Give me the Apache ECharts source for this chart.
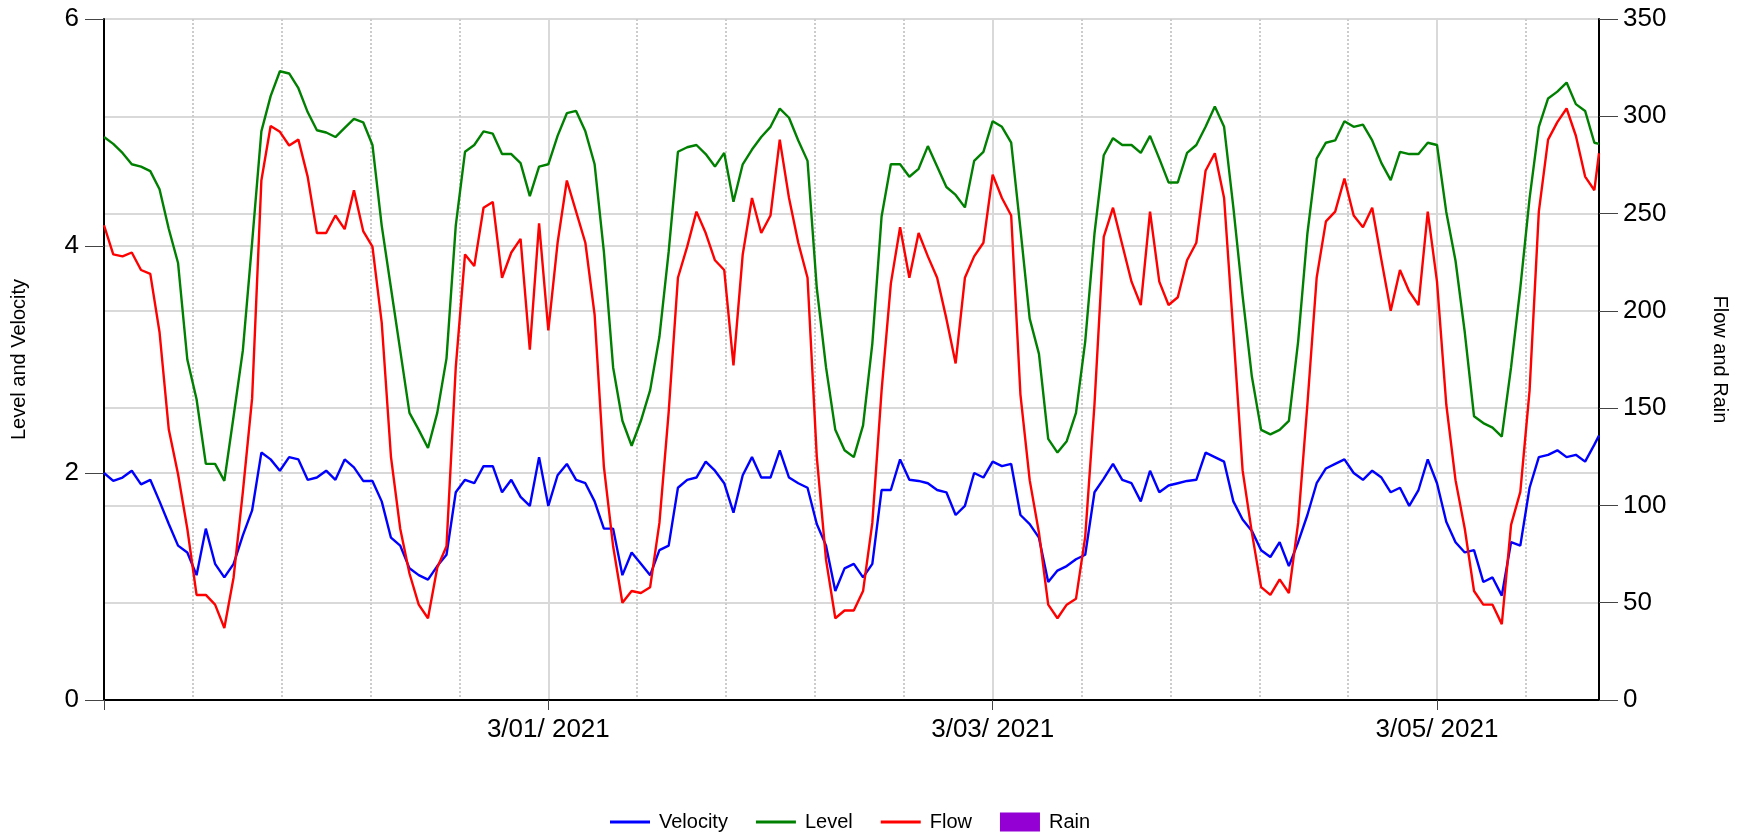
<!DOCTYPE html>
<html>
<head>
<meta charset="utf-8">
<title>Velocity, Level, Flow and Rain</title>
<script src="https://cdn.jsdelivr.net/npm/echarts/dist/echarts.min.js"></script>
<style>
  html, body { margin: 0; padding: 0; background: #fff; }
  #chart { width: 1745px; height: 833px; }
</style>
</head>
<body>
<div id="chart"></div>
<script>
// Hourly readings starting 2/27/2021 00:00; the last sample sits at the end of the record.
const lastHour = 161.5;

const velocity = [
  2.00,1.93,1.96,2.02,1.90,1.94,1.75,1.55,1.36,1.30,
  1.10,1.51,1.20,1.08,1.20,1.45,1.67,2.18,2.12,2.02,
  2.14,2.12,1.94,1.96,2.02,1.94,2.12,2.05,1.93,1.93,
  1.75,1.43,1.36,1.16,1.10,1.06,1.18,1.28,1.83,1.94,
  1.91,2.06,2.06,1.83,1.94,1.79,1.71,2.14,1.71,1.98,
  2.08,1.94,1.91,1.75,1.51,1.51,1.10,1.30,1.20,1.10,
  1.32,1.36,1.87,1.94,1.96,2.10,2.02,1.91,1.65,1.98,
  2.14,1.96,1.96,2.20,1.96,1.91,1.87,1.55,1.36,0.96,
  1.16,1.20,1.08,1.20,1.85,1.85,2.12,1.94,1.93,1.91,
  1.85,1.83,1.63,1.71,2.00,1.96,2.10,2.06,2.08,1.63,
  1.55,1.43,1.04,1.14,1.18,1.24,1.28,1.83,1.95,2.08,
  1.94,1.91,1.75,2.02,1.83,1.89,1.91,1.93,1.94,2.18,
  2.14,2.10,1.75,1.59,1.49,1.32,1.26,1.39,1.18,1.39,
  1.63,1.91,2.04,2.08,2.12,2.00,1.94,2.02,1.96,1.83,
  1.87,1.71,1.85,2.12,1.91,1.57,1.39,1.30,1.32,1.04,
  1.08,0.92,1.39,1.36,1.87,2.14,2.16,2.20,2.14,2.16,
  2.10,2.25,2.33
];

const level = [
  4.96,4.90,4.82,4.72,4.70,4.66,4.50,4.15,3.85,3.00,
  2.65,2.08,2.08,1.93,2.50,3.08,4.03,5.01,5.32,5.54,
  5.52,5.39,5.18,5.02,5.00,4.96,5.04,5.12,5.09,4.89,
  4.18,3.63,3.08,2.53,2.38,2.22,2.53,3.01,4.18,4.83,
  4.89,5.01,4.99,4.81,4.81,4.73,4.44,4.70,4.72,4.97,
  5.17,5.19,5.01,4.72,3.95,2.93,2.46,2.24,2.46,2.73,
  3.20,3.95,4.83,4.87,4.89,4.81,4.70,4.82,4.39,4.72,
  4.85,4.96,5.05,5.21,5.13,4.93,4.75,3.63,2.93,2.38,
  2.20,2.14,2.42,3.14,4.26,4.72,4.72,4.61,4.68,4.88,
  4.70,4.52,4.45,4.34,4.75,4.83,5.10,5.05,4.91,4.15,
  3.36,3.05,2.30,2.18,2.28,2.53,3.16,4.11,4.80,4.95,
  4.89,4.89,4.82,4.97,4.77,4.56,4.56,4.82,4.89,5.05,
  5.23,5.05,4.34,3.56,2.85,2.38,2.34,2.38,2.46,3.16,
  4.11,4.77,4.91,4.93,5.10,5.05,5.07,4.93,4.73,4.58,
  4.83,4.81,4.81,4.91,4.89,4.30,3.87,3.24,2.50,2.44,
  2.40,2.32,2.93,3.63,4.42,5.05,5.30,5.36,5.44,5.25,
  5.19,4.91,4.90
];

const flow = [
  244,229,228,230,221,219,189,139,116,88,
  54,54,49,37,63,107,155,267,295,292,
  285,288,269,240,240,249,242,262,241,233,
  194,125,88,65,49,42,68,79,171,229,
  223,253,256,217,230,237,180,245,190,235,
  267,251,235,198,120,79,50,56,55,58,
  91,148,217,233,251,240,226,221,172,229,
  258,240,249,288,258,235,217,125,72,42,
  46,46,56,91,159,214,243,217,240,228,
  217,196,173,217,228,235,270,258,249,157,
  113,86,49,42,49,52,84,152,238,253,
  234,215,203,251,215,203,207,226,235,272,
  281,258,189,118,86,58,54,62,55,91,
  152,217,246,251,268,249,243,253,226,200,
  221,210,203,251,215,152,113,88,56,49,
  49,39,90,107,159,251,288,297,304,290,
  269,262,281
];

// No rain was recorded over the period.
const rain = [];

// Date labels on the time axis (hours from 2/27/2021 00:00).
const labelHours = [48, 96, 144];
const labelTexts = ['3/01/ 2021', '3/03/ 2021', '3/05/ 2021'];

const leftTicks = { min: 0, max: 6, interval: 2 };
const rightTicks = { min: 0, max: 350, interval: 50 };

const hours = velocity.map((_, i) => (i < velocity.length - 1 ? i : lastHour));
const pairs = (vals) => vals.map((v, i) => [hours[i], v]);

const FONT = '"Liberation Sans", Arial, sans-serif';
const GRID_GREY = '#d9d9d9';
const LEGEND_LINE = 'path://M0,0L40,0L40,3L0,3Z';

const chart = echarts.init(document.getElementById('chart'), null, { renderer: 'canvas' });

chart.setOption({
  animation: false,
  backgroundColor: '#ffffff',
  textStyle: { fontFamily: FONT, color: '#000' },
  grid: { left: 104, right: 146, top: 19, bottom: 133, containLabel: false },
  legend: {
    left: 605,
    top: 807,
    itemWidth: 40,
    itemHeight: 19,
    itemGap: 28,
    symbolKeepAspect: true,
    textStyle: { fontSize: 20, color: '#000', fontFamily: FONT, padding: [0, 0, 0, 4] },
    data: [
      { name: 'Velocity', icon: LEGEND_LINE },
      { name: 'Level', icon: LEGEND_LINE },
      { name: 'Flow', icon: LEGEND_LINE },
      { name: 'Rain', icon: 'rect' }
    ]
  },
  xAxis: [
    {
      // minor dotted verticals
      type: 'value',
      min: 0,
      max: lastHour,
      interval: 9.6,
      position: 'bottom',
      axisLine: { show: false },
      axisTick: { show: false },
      axisLabel: { show: false },
      splitLine: { show: true, lineStyle: { color: '#cccccc', width: 2, type: 'dotted' } }
    },
    {
      type: 'value',
      min: 0,
      max: lastHour,
      interval: 48,
      position: 'bottom',
      axisLine: { show: true, onZero: false, lineStyle: { color: '#000', width: 2 } },
      axisTick: { show: true, length: 10, lineStyle: { color: '#444', width: 1 } },
      axisLabel: {
        show: true,
        fontSize: 26,
        color: '#000',
        margin: 17,
        fontFamily: FONT,
        showMaxLabel: false,
        formatter: (v) => {
          const k = labelHours.indexOf(Math.round(v));
          return k >= 0 && Math.abs(v - labelHours[k]) < 1e-6 ? labelTexts[k] : '';
        }
      },
      splitLine: { show: true, lineStyle: { color: GRID_GREY, width: 2 } }
    }
  ],
  yAxis: [
    {
      type: 'value',
      position: 'left',
      min: leftTicks.min,
      max: leftTicks.max,
      interval: leftTicks.interval,
      name: 'Level and Velocity',
      nameLocation: 'middle',
      nameGap: 75,
      nameRotate: 90,
      nameTextStyle: { fontSize: 20, color: '#000', fontFamily: FONT },
      axisLine: { show: true, onZero: false, lineStyle: { color: '#000', width: 2 } },
      axisTick: { show: true, length: 19, lineStyle: { color: '#444', width: 1 } },
      axisLabel: {
        fontSize: 26,
        color: '#000',
        margin: 25,
        fontFamily: FONT,
        backgroundColor: '#ffffff'
      },
      splitLine: { show: true, lineStyle: { color: GRID_GREY, width: 2 } }
    },
    {
      type: 'value',
      position: 'right',
      min: rightTicks.min,
      max: rightTicks.max,
      interval: rightTicks.interval,
      name: 'Flow and Rain',
      nameLocation: 'middle',
      nameGap: 111,
      nameRotate: -90,
      nameTextStyle: { fontSize: 20, color: '#000', fontFamily: FONT },
      axisLine: { show: true, onZero: false, lineStyle: { color: '#000', width: 2 } },
      axisTick: { show: true, length: 19, lineStyle: { color: '#444', width: 1 } },
      axisLabel: { fontSize: 26, color: '#000', margin: 24, fontFamily: FONT },
      splitLine: { show: true, lineStyle: { color: GRID_GREY, width: 2 } }
    }
  ],
  series: [
    {
      name: 'Velocity',
      type: 'line',
      xAxisIndex: 1,
      yAxisIndex: 0,
      symbol: 'none',
      color: '#0000ff',
      lineStyle: { width: 2.4, color: '#0000ff' },
      data: pairs(velocity)
    },
    {
      name: 'Level',
      type: 'line',
      xAxisIndex: 1,
      yAxisIndex: 0,
      symbol: 'none',
      color: '#008000',
      lineStyle: { width: 2.4, color: '#008000' },
      data: pairs(level)
    },
    {
      name: 'Flow',
      type: 'line',
      xAxisIndex: 1,
      yAxisIndex: 1,
      symbol: 'none',
      color: '#ff0000',
      lineStyle: { width: 2.4, color: '#ff0000' },
      data: pairs(flow)
    },
    {
      name: 'Rain',
      type: 'bar',
      xAxisIndex: 1,
      yAxisIndex: 1,
      color: '#9400d3',
      itemStyle: { color: '#9400d3' },
      data: rain
    }
  ]
});
</script>
</body>
</html>
